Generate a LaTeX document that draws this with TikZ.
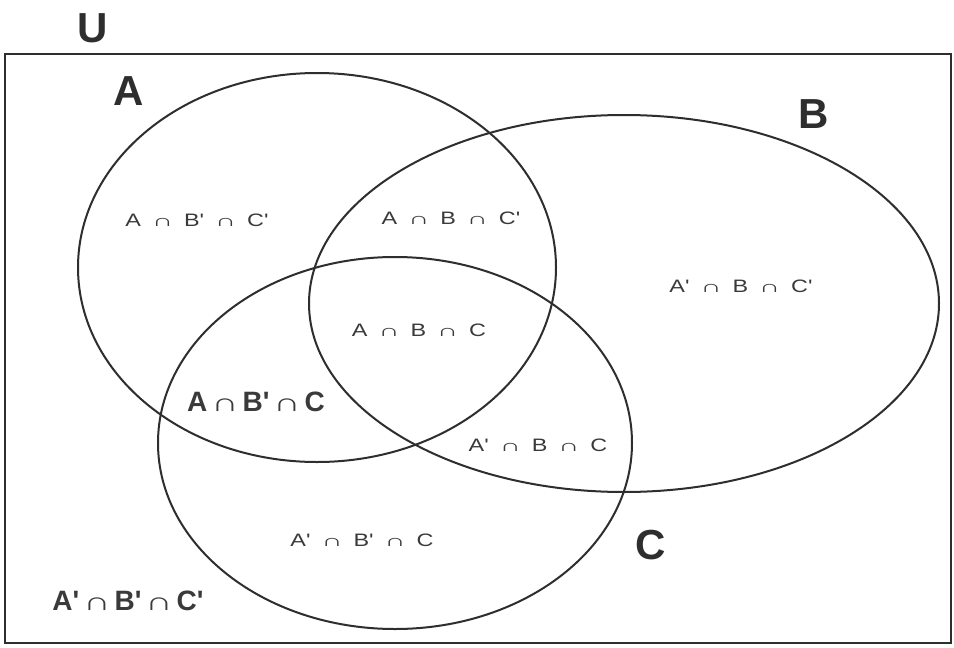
\documentclass[tikz,border=0pt]{standalone}
\usepackage{graphicx}
\usepackage{fontspec}
\setmainfont{Liberation Sans}[Ligatures=TeXOff]
\newfontfamily\widefont{Liberation Sans}[FakeStretch=1.3]
\usetikzlibrary{shapes.geometric}
\definecolor{ink}{HTML}{2E2E2E}
\definecolor{lbl}{HTML}{3A3A3A}
\newcommand{\ic}{\hspace{11pt}\scalebox{1.25}[0.9]{∩}\hspace{11pt}}
\newcommand{\icb}{\hspace{4pt}\scalebox{1.35}[0.9]{∩}\hspace{4pt}}
\begin{document}
\begin{tikzpicture}[x=1pt,y=-1pt,
  setshape/.style={ellipse, draw=ink, line width=2pt, inner sep=0pt, outer sep=0pt},
  biglabel/.style={font=\fontsize{42}{42}\selectfont\bfseries, text=ink, inner sep=0pt},
  small/.style={font=\widefont\fontsize{18}{18}\selectfont, text=lbl, inner sep=0pt},
  medium/.style={font=\fontsize{28}{28}\selectfont\bfseries, text=lbl, inner sep=0pt}]
\useasboundingbox (0,0) rectangle (954,648);
\fill[white] (0,0) rectangle (954,648);
\node[draw=ink, line width=2.8pt, minimum width=946pt, minimum height=589pt, inner sep=0pt] (universe) at (478,348.5) {};
\node[setshape, minimum width=478pt, minimum height=389pt] (setA) at (317,267.5) {};
\node[setshape, minimum width=630pt, minimum height=377pt] (setB) at (624,303.5) {};
\node[setshape, minimum width=474pt, minimum height=372pt] (setC) at (395,443) {};
\node[biglabel] (lU) at (93,28) {U};
\node[biglabel] (lA) at (129,91) {A};
\node[biglabel] (lB) at (814,114) {B};
\node[biglabel] (lC) at (651,545) {C};
\node[small] (r1) at (197,220) {A\ic B'\ic C'};
\node[small] (r2) at (451,218) {A\ic B\ic C'};
\node[small] (r3) at (419,330) {A\ic B\ic C};
\node[small] (r4) at (741,286) {A'\ic B\ic C'};
\node[small] (r5) at (538,445) {A'\ic B\ic C};
\node[small] (r6) at (362,540) {A'\ic B'\ic C};
\node[medium] (r7) at (256,402) {A\icb B'\icb C};
\node[medium] (r8) at (128,601) {A'\icb B'\icb C'};
\end{tikzpicture}
\end{document}
